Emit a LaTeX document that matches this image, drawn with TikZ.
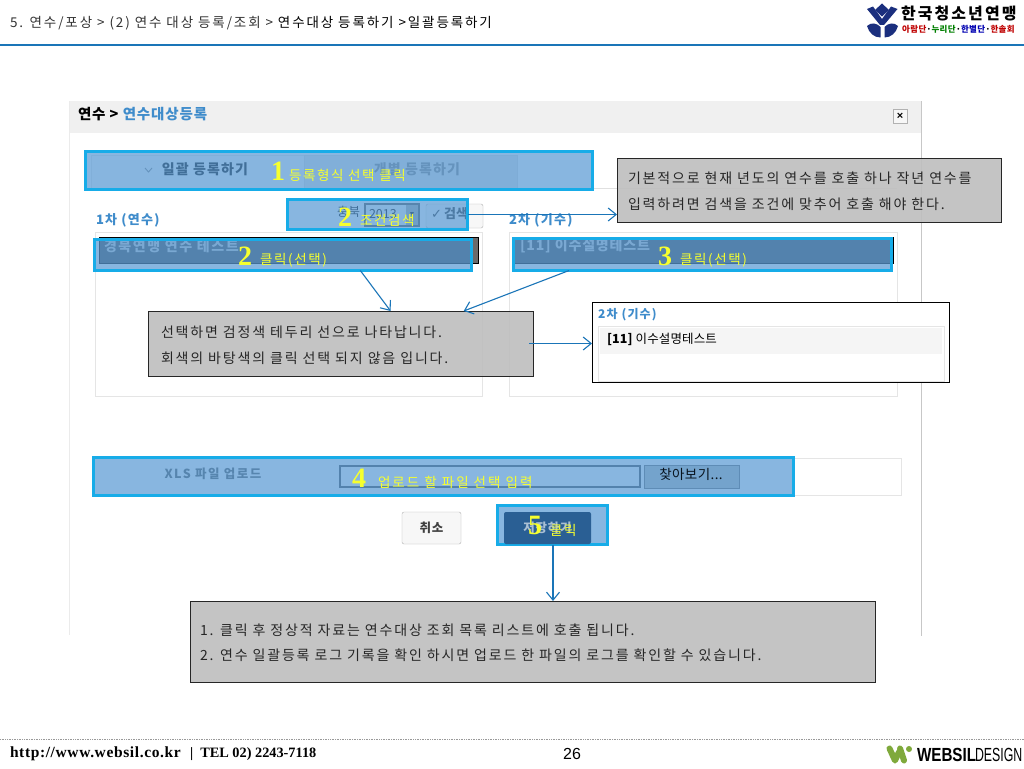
\documentclass[tikz,border=0pt]{standalone}
\usepackage{fontspec}
\usetikzlibrary{arrows.meta,calc}
\setmainfont{Noto Sans CJK KR}
\newfontfamily\serifbf[Ligatures=TeX]{Liberation Serif}
\newfontfamily\latinsans{Liberation Sans}
\newfontfamily\symbolsans{DejaVu Sans}
\definecolor{hlfill}{HTML}{5B9BD5}
\definecolor{hlline}{HTML}{17ACE8}
\definecolor{arrowblue}{HTML}{1A75B8}
\definecolor{calloutgray}{HTML}{BFBFBF}
\definecolor{panelblue}{HTML}{3F8CCB}
\definecolor{navy}{HTML}{1B2F7E}
\definecolor{yel}{HTML}{F6FF2E}
\definecolor{wgreen}{HTML}{7FA93B}
\definecolor{rowdark}{HTML}{404448}
\definecolor{savedark}{HTML}{2A5F94}
\tikzset{
 px/.style={inner sep=0pt,outer sep=0pt},
 lbl/.style={px,anchor=west,font=\fontsize{12}{14}\selectfont},
 boxp/.style={px,anchor=north west,draw=#1},
 highlight/.style={px,anchor=north west,draw=hlline,line width=3pt,fill=hlfill,fill opacity=.72},
 callout/.style={px,anchor=north west,draw=black!85,line width=1pt,fill=calloutgray,fill opacity=.92},
 conn/.style={draw=arrowblue,line width=1.1pt,-{Straight Barb[length=8pt,width=13pt,line width=1.1pt]}},
 numlab/.style={px,text=yel,font=\serifbf\bfseries\fontsize{28}{28}\selectfont},
 yellab/.style={px,anchor=west,text=yel,font=\fontsize{13.5}{15}\selectfont\addfontfeature{LetterSpace=12}},
 sized/.style 2 args={minimum width=#1,minimum height=#2},
 calltext/.style={px,anchor=west,text=black!85,font=\fontsize{14}{16}\selectfont\addfontfeature{LetterSpace=13}},
 headlab/.style={px,anchor=west,text=panelblue,font=\bfseries\fontsize{13}{15}\selectfont\addfontfeature{LetterSpace=10}},
 rowtext/.style={px,anchor=west,text=white!80!black,font=\bfseries\fontsize{14}{16}\selectfont\addfontfeature{LetterSpace=8}},
}
\begin{document}
\begin{tikzpicture}[x=1pt,y=-1pt]
\useasboundingbox (0,0) rectangle (1024,768);
\fill[white] (0,0) rectangle (1024,768);
% page header
\node[px,anchor=west,font=\fontsize{13.5}{15}\selectfont\addfontfeature{LetterSpace=14},text=black!80] (crumb) at (10,23.5) {5. 연수/포상 > (2) 연수 대상 등록/조회 > {\color{black}연수대상 등록하기 >일괄등록하기}};
\draw[arrowblue,line width=2.5pt] (0,45) -- (1024,45);
% header logo
\begin{scope}[navy]
\fill (882,3.5) -- (889,10) -- (882,16.5) -- (875,10) -- cycle;
\fill (867,9) -- (873,6.5) -- (882,19) -- (891,6.5) -- (897.5,9) -- (884,25) -- (880,25) -- cycle;
\fill (867,26) .. controls (871,22) and (877,23) .. (880.5,27) -- (880.5,37.5) .. controls (874,37.5) and (869,33) .. (867,26) -- cycle;
\fill (898,26) .. controls (894,22) and (888,23) .. (884.5,27) -- (884.5,37.5) .. controls (891,37.5) and (896,33) .. (898,26) -- cycle;
\end{scope}
\node[px,anchor=west,font=\bfseries\fontsize{16}{18}\selectfont\addfontfeature{LetterSpace=13}] (logotitle) at (901,14) {한국청소년연맹};
\node[px,anchor=west,font=\bfseries\fontsize{8.5}{10}\selectfont\addfontfeature{LetterSpace=5}] (logosub) at (902,29) {\color{red!75!black}아람단\color{black}·\color{green!50!black}누리단\color{black}·\color{blue!70!black}한별단\color{black}·\color{red!75!black}한솔회};
% dialog screenshot
\fill[black!6] (69,101) rectangle (921,133);
\draw[black!8,line width=.8pt] (69,101) -- (69,635);
\draw[black!22,line width=1.2pt] (921.5,101) -- (921.5,636);
\node[px,anchor=west,font=\bfseries\fontsize{14.5}{16}\selectfont\addfontfeature{LetterSpace=6}] (dlgtitle) at (78,114.5) {연수 > \textcolor{panelblue}{연수대상등록}};
\node[px,draw=black!30,fill=black!3,sized={14pt}{14pt}] (closebtn) at (900,116) {\latinsans\bfseries\fontsize{11}{11}\selectfont ×};
% tabs
\draw[black!12] (517,188) -- (897,188);
\node[boxp=black!10,fill=black!2,sized={213pt}{33pt}] (tabone) at (91,155) {};
\node[boxp=black!14,fill=black!10,sized={213pt}{33pt}] (tabtwo) at (304,155) {};
\node[px,font=\bfseries\fontsize{14}{16}\selectfont\addfontfeature{LetterSpace=8}] (tabonetxt) at (205,169.5) {일괄 등록하기};
\draw[black!50,line width=.9pt] (145,168) -- (148.5,172) -- (152,168);
\node[px,font=\bfseries\fontsize{14}{16}\selectfont\addfontfeature{LetterSpace=8},text=black!50] (tabtwotxt) at (417,169.5) {개별 등록하기};
% list panels
\node[boxp=black!10,sized={387pt}{164pt}] (listleft) at (95,232) {};
\node[boxp=black!10,sized={388pt}{164pt}] (listright) at (509,232) {};
\node[headlab] (headleft) at (96,220) {1차 (연수)};
\node[headlab] (headright) at (509,220) {2차 (기수)};
\node[boxp=black,fill=rowdark,line width=.8pt,sized={379pt}{26pt}] (rowleft) at (99,237) {};
\node[boxp=black,fill=rowdark,line width=.8pt,sized={381pt}{26pt}] (rowright) at (512,237) {};
\fill[black!58] (473,238) rectangle (478,263);
\node[rowtext,font=\bfseries\fontsize{14}{16}\selectfont\addfontfeature{LetterSpace=11}] (rowlefttxt) at (104,246) {경북연맹 연수 테스트};
\node[rowtext,font=\bfseries\fontsize{14}{16}\selectfont\addfontfeature{LetterSpace=6}] (rowrighttxt) at (520,246) {[11] 이수설명테스트};
% search bar
\node[lbl,font=\fontsize{12.5}{14}\selectfont] (areatxt) at (337,212) {충북};
\node[boxp=black!70,fill=black!4,line width=1.2pt,sized={54pt}{22pt}] (yearbox) at (365,204) {};
\node[lbl,font=\fontsize{12.5}{14}\selectfont] (yeartxt) at (369,214) {2013};
\node[px,fill=black!35,sized={12pt}{20pt}] (yeararrow) at (412,215) {\fontsize{7}{7}\selectfont\latinsans ▼};
\node[boxp=black!30,fill=black!3,rounded corners=2pt,sized={57pt}{24pt}] (searchbtn) at (426,204) {};
\node[lbl,font=\bfseries\fontsize{13}{14}\selectfont,text=black!85] (searchtxt) at (431,214) {{\symbolsans ✓}\,검색};
% upload row
\node[boxp=black!10,sized={809pt}{37pt}] (uploadrow) at (92,458) {};
\node[px,font=\bfseries\fontsize{12.5}{14}\selectfont\addfontfeature{LetterSpace=12},text=black!70] (xlstxt) at (213,474) {XLS 파일 업로드};
\node[boxp={rowdark},line width=1.2pt,fill=white,sized={300pt}{21pt}] (fileinput) at (340,466) {};
\node[boxp=black!60,fill=black!28,line width=1pt,sized={95pt}{23pt}] (browsebtn) at (644,465) {};
% action buttons
\node[boxp=black!30,fill=black!3,rounded corners=2pt,sized={59pt}{32pt},font=\bfseries\fontsize{12.5}{14}\selectfont\addfontfeature{LetterSpace=6},text=black!75] (cancelbtn) at (402,512) {취소};
% highlight overlays
\node[highlight,sized={507pt}{38pt}] (hlone) at (85.5,151.5) {};
\node[highlight,sized={180pt}{30pt}] (hlsearch) at (287.5,199.5) {};
\node[highlight,sized={377pt}{31pt}] (hlleft) at (94.5,239.5) {};
\node[highlight,sized={378pt}{32pt}] (hlright) at (513.5,238.5) {};
\node[highlight,sized={700pt}{38pt}] (hlupload) at (93.5,457.5) {};
\node[highlight,sized={110pt}{39pt}] (hlsave) at (497.5,505.5) {};
\node[px,anchor=north west,fill=savedark,rounded corners=2pt,sized={87pt}{32pt},font=\bfseries\fontsize{12.5}{14}\selectfont\addfontfeature{LetterSpace=6},text=white!60!savedark] (savebtn) at (504,512) {저장하기};
\node[px,text=black!80!savedark,font=\fontsize{13.5}{15}\selectfont\addfontfeature{LetterSpace=3}] (browsetxt) at (691,474) {찾아보기...};
% yellow labels
\node[numlab] (numone) at (278,171) {1};
\node[yellab] (labone) at (289,175.5) {등록형식 선택 클릭};
\node[numlab] (numtwoa) at (345,217) {2};
\node[yellab] (labtwoa) at (360,220) {조건검색};
\node[numlab] (numtwob) at (245,256) {2};
\node[yellab] (labtwob) at (260,260) {클릭(선택)};
\node[numlab] (numthree) at (665,256) {3};
\node[yellab] (labthree) at (680,260) {클릭(선택)};
\node[numlab] (numfour) at (359,478) {4};
\node[yellab,font=\fontsize{13.5}{15}\selectfont\addfontfeature{LetterSpace=15}] (labfour) at (378,482.5) {업로드 할 파일 선택 입력};
\node[numlab] (numfive) at (535,525) {5};
\node[yellab] (labfive) at (550,530) {클릭};
% callouts
\node[callout,sized={384pt}{64pt}] (callone) at (617,158) {};
\node[calltext] (callonea) at (628,178.5) {기본적으로 현재 년도의 연수를 호출 하나 작년 연수를};
\node[calltext] (calloneb) at (628,204.5) {입력하려면 검색을 조건에 맞추어 호출 해야 한다.};
\node[callout,sized={385pt}{65pt}] (calltwo) at (148,311) {};
\node[calltext] (calltwoa) at (161,332) {선택하면 검정색 테두리 선으로 나타납니다.};
\node[calltext] (calltwob) at (161,358) {회색의 바탕색의 클릭 선택 되지 않음 입니다.};
\node[callout,sized={685pt}{81pt}] (callthree) at (190,601) {};
\node[calltext] (callthreea) at (200,630.5) {1. 클릭 후 정상적 자료는 연수대상 조회 목록 리스트에 호출 됩니다.};
\node[calltext] (callthreeb) at (200,655.5) {2. 연수 일괄등록 로그 기록을 확인 하시면 업로드 한 파일의 로그를 확인할 수 있습니다.};
% inset
\node[boxp=black,fill=white,line width=1pt,sized={357pt}{80pt}] (inset) at (592,302) {};
\node[boxp=black!10,sized={346pt}{55pt}] (insetlist) at (598,326) {};
\node[px,anchor=north west,fill=black!4,sized={342pt}{26pt}] (insetrow) at (600,328) {};
\node[headlab,font=\bfseries\fontsize{12}{14}\selectfont\addfontfeature{LetterSpace=10}] (insethead) at (598,315) {2차 (기수)};
\node[px,anchor=west,font=\fontsize{12.5}{14}\selectfont\addfontfeature{LetterSpace=1}] (insettxt) at (607,339) {\textbf{[11]} 이수설명테스트};
% connectors
\draw[conn] (hlsearch.east) -- (hlsearch.east -| callone.west);
\draw[conn] ($(hlleft.south west)!.705!(hlleft.south east)$) -- ($(calltwo.north west)!.63!(calltwo.north east)$);
\draw[conn] ($(hlright.south west)!.147!(hlright.south east)$) -- ($(calltwo.north west)!.82!(calltwo.north east)$);
\draw[conn] ($(calltwo.east)+(-4,0)$) -- (calltwo.east -| inset.west);
\coordinate (savedrop) at (553,0);
\draw[conn] (hlsave.south -| savedrop) -- (callthree.north -| savedrop);
% footer
\draw[black!40,densely dotted,line width=.7pt] (0,739) -- (1024,739);
\node[px,anchor=west,font=\serifbf\bfseries\fontsize{15.5}{17}\selectfont\addfontfeature{LetterSpace=4}] (footurl) at (10,754) {http://www.websil.co.kr};
\node[px,anchor=west,font=\serifbf\bfseries\fontsize{14.3}{15}\selectfont] (foottel) at (190,754.5) {|\ \ TEL 02) 2243-7118};
\node[px,font=\latinsans\fontsize{16}{18}\selectfont] (pagenum) at (572,754) {26};
\begin{scope}[wgreen,line width=6pt,line cap=round,line join=round]
\draw (889.5,748.5) -- (895,760.5) -- (899,752);
\draw (900,748.5) -- (904,760.5);
\fill (909,749) circle (3pt);
\end{scope}
\node[px,anchor=west,font=\latinsans\bfseries\fontsize{19}{19}\selectfont,xscale=.8] (logoweb) at (917,755) {WEBSIL};
\node[px,anchor=west,font=\latinsans\fontsize{19}{19}\selectfont,xscale=.65] (logodes) at (975,755) {DESIGN};
\end{tikzpicture}
\end{document}
